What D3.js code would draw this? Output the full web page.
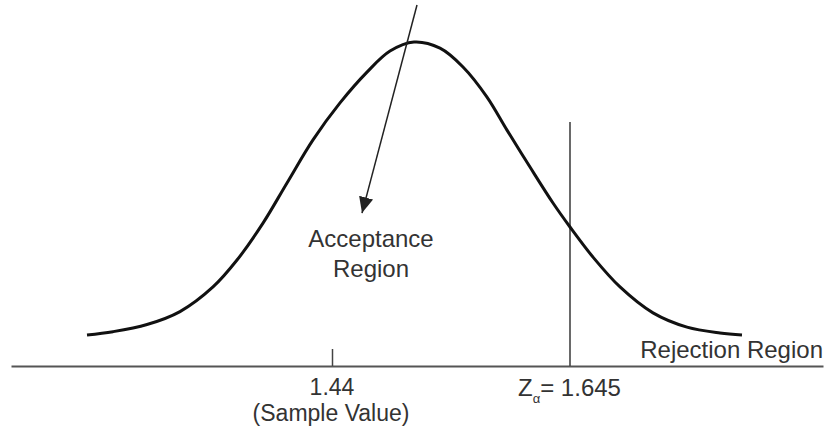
<!DOCTYPE html>
<html>
<head>
<meta charset="utf-8">
<script src="https://cdn.jsdelivr.net/npm/d3@7"></script>
<style>
  body { margin: 0; background: #fff; }
  svg text { font-family: "Liberation Sans", Arial, sans-serif; fill: #333; }
</style>
</head>
<body>
<div id="chart"></div>
<script>
// curve: position (z-ish units) and relative height
var curveZ = [-3.31, -3.05, -2.71, -2.38, -2.05, -1.81, -1.55, -1.31, -1.05, -0.78, -0.51, -0.28, -0.04, 0.22, 0.45, 0.69, 0.89, 1.12, 1.35, 1.52, 1.75, 2.02, 2.35, 2.69, 3.02, 3.24];
var curveH = [0.096, 0.106, 0.128, 0.168, 0.244, 0.327, 0.441, 0.565, 0.698, 0.812, 0.907, 0.972, 1.0, 0.981, 0.923, 0.830, 0.728, 0.614, 0.503, 0.429, 0.336, 0.244, 0.164, 0.120, 0.102, 0.096];

var sampleValue = -0.86;      // where "1.44" sits
var sampleLabel = "1.44";
var criticalValue = 1.52;     // where Z_alpha sits
var criticalLabel = "1.645";
var criticalHeight = 0.753;
var arrowFrom = [-0.01, 1.114];
var arrowTo = [-0.56, 0.472];

var w = 825;
var h = 429;

var xScale = d3.scaleLinear()
    .domain([-4.07, 4.05])
    .range([11, 823]);

var yScale = d3.scaleLinear()
    .domain([0, 1])
    .range([366, 42]);

var svg = d3.select("#chart")
    .append("svg")
    .attr("width", w)
    .attr("height", h);

svg.append("defs").append("marker")
    .attr("id", "head")
    .attr("viewBox", "0 0 10 10")
    .attr("refX", 10)
    .attr("refY", 5)
    .attr("markerWidth", 16)
    .attr("markerHeight", 16)
    .attr("markerUnits", "userSpaceOnUse")
    .attr("orient", "auto")
    .append("path")
    .attr("d", "M0,0.5 L10,5 L0,9.5 Z")
    .attr("fill", "#222");

// baseline with the small tick at the sample value
var xAxis = d3.axisBottom(xScale)
    .tickValues([sampleValue])
    .tickSizeInner(-17)
    .tickSizeOuter(0)
    .tickFormat("");

var axisG = svg.append("g")
    .attr("transform", "translate(0," + yScale(0) + ")")
    .call(xAxis);
axisG.select(".domain").attr("stroke", "#555").attr("stroke-width", 2);
axisG.selectAll(".tick line").attr("stroke", "#444").attr("stroke-width", 1.5);

// critical value line
svg.append("line")
    .attr("x1", xScale(criticalValue))
    .attr("x2", xScale(criticalValue))
    .attr("y1", yScale(0))
    .attr("y2", yScale(criticalHeight))
    .attr("stroke", "#444")
    .attr("stroke-width", 1.6);

// bell curve
var pts = curveZ.map(function(z, i) { return [z, curveH[i]]; });
var line = d3.line()
    .x(function(d) { return xScale(d[0]); })
    .y(function(d) { return yScale(d[1]); })
    .curve(d3.curveCatmullRom.alpha(0.5));

svg.append("path")
    .datum(pts)
    .attr("d", line)
    .attr("fill", "none")
    .attr("stroke", "#111")
    .attr("stroke-width", 3);

// arrow to acceptance region
svg.append("line")
    .attr("x1", xScale(arrowFrom[0]))
    .attr("y1", yScale(arrowFrom[1]))
    .attr("x2", xScale(arrowTo[0]))
    .attr("y2", yScale(arrowTo[1]))
    .attr("stroke", "#222")
    .attr("stroke-width", 1.5)
    .attr("marker-end", "url(#head)");

// labels
var ax = xScale(arrowTo[0]) + 9;
svg.append("text")
    .attr("x", ax).attr("y", 247)
    .attr("text-anchor", "middle")
    .style("font-size", "24px")
    .text("Acceptance");
svg.append("text")
    .attr("x", ax).attr("y", 277)
    .attr("text-anchor", "middle")
    .style("font-size", "24px")
    .text("Region");

svg.append("text")
    .attr("x", 823).attr("y", 358)
    .attr("text-anchor", "end")
    .style("font-size", "24px")
    .text("Rejection Region");

svg.append("text")
    .attr("x", xScale(sampleValue)).attr("y", 395)
    .attr("text-anchor", "middle")
    .style("font-size", "23px")
    .text(sampleLabel);
svg.append("text")
    .attr("x", xScale(sampleValue) - 1).attr("y", 421)
    .attr("text-anchor", "middle")
    .style("font-size", "23px")
    .text("(Sample Value)");

var zt = svg.append("text")
    .attr("x", xScale(criticalValue) - 52).attr("y", 396)
    .style("font-size", "24px");
zt.append("tspan").text("Z");
zt.append("tspan").attr("dy", 7).style("font-size", "13px").text("\u03b1");
zt.append("tspan").attr("dy", -7).text("= " + criticalLabel);
</script>
</body>
</html>
